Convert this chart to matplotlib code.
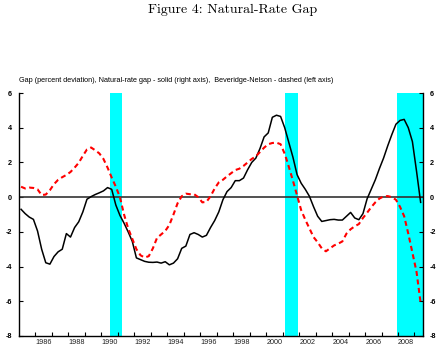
import numpy as np
import matplotlib
matplotlib.use('Agg')
from matplotlib import pyplot as plt

# quarterly data, 1985Q1 .. 2009Q2 (plotted at mid-quarter)
start_year = 1985
n_q = 98
natural_gap = [-0.7, -0.95, -1.15, -1.28, -1.95, -3.0, -3.78, -3.86, -3.42, -3.15,
               -3.0, -2.1, -2.3, -1.75, -1.42, -0.85, -0.12, 0.03, 0.15, 0.25,
               0.36, 0.55, 0.45, -0.45, -1.05, -1.5, -2.0, -2.55, -3.5, -3.6,
               -3.7, -3.75, -3.76, -3.74, -3.8, -3.72, -3.9, -3.8, -3.55, -2.95,
               -2.82, -2.15, -2.05, -2.15, -2.3, -2.2, -1.75, -1.35, -0.85, -0.15,
               0.32, 0.55, 0.95, 0.95, 1.1, 1.58, 2.0, 2.25, 2.8, 3.47,
               3.7, 4.6, 4.72, 4.65, 4.0, 3.15, 2.3, 1.3, 0.8, 0.45,
               0.05, -0.55, -1.1, -1.4, -1.35, -1.3, -1.28, -1.32, -1.32, -1.1,
               -0.88, -1.2, -1.3, -0.95, -0.1, 0.45, 1.0, 1.65, 2.25, 2.95,
               3.6, 4.2, 4.42, 4.48, 4.0, 3.2, 1.5, -0.3]
bn_gap = [0.6, 0.5, 0.55, 0.53, 0.45, 0.12, 0.15, 0.4, 0.75, 1.0,
          1.15, 1.28, 1.45, 1.7, 1.98, 2.38, 2.75, 2.86, 2.7, 2.52,
          2.2, 1.7, 1.13, 0.6, 0.0, -1.0, -1.8, -2.4, -3.0, -3.35,
          -3.48, -3.4, -2.95, -2.35, -2.15, -1.95, -1.6, -1.0, -0.35, 0.05,
          0.2, 0.17, 0.17, 0.0, -0.3, -0.27, 0.05, 0.5, 0.85, 1.0,
          1.2, 1.38, 1.56, 1.64, 1.8, 2.0, 2.2, 2.35, 2.6, 2.85,
          3.05, 3.12, 3.14, 3.05, 2.5, 1.75, 0.95, 0.1, -0.75, -1.3,
          -1.8, -2.3, -2.6, -2.95, -3.12, -2.95, -2.78, -2.68, -2.55, -2.1,
          -1.85, -1.68, -1.55, -1.2, -0.9, -0.58, -0.3, -0.08, 0.04, 0.06,
          0.0, -0.15, -0.56, -1.1, -2.1, -3.2, -4.3, -6.1]
recessions = [(1990.5, 1991.25), (2001.125, 2001.95), (2007.92, 2009.5)]
year_labels = list(range(1986, 2009, 2))

t = start_year + 0.125 + 0.25 * np.arange(n_q)

fig = plt.figure(figsize=(4.47, 3.51), dpi=100)
ax = fig.add_axes([19/447, 15/351, (422.7-19)/447, (336-93)/351])

for a, b in recessions:
    ax.axvspan(a, b, color='#00ffff', lw=0, zorder=1)
ax.axhline(0, color='#333333', lw=1.2, zorder=2)
ax.plot(t, natural_gap, color='black', lw=1.1, zorder=3)
ax.plot(t, bn_gap, color='red', lw=1.5, ls=(0, (2.4, 1.7)), zorder=4)

ax.set_xlim(1985, 2009.5)
ax.set_ylim(-8, 6)
ax.spines['top'].set_visible(False)
for s in ['left', 'right', 'bottom']:
    ax.spines[s].set_linewidth(1.0)

ax.set_yticks(np.arange(-8, 7, 2))
ax.set_yticklabels([str(v) for v in range(-8, 7, 2)])
ax.tick_params(axis='y', direction='in', length=3, width=0.8, left=True, right=True,
               labelleft=True, labelright=True, labelsize=5.2, pad=5)
for lab in ax.get_yticklabels():
    lab.set_fontfamily('Liberation Sans')
    lab.set_fontweight('bold')

ax.set_xticks(np.arange(1986, 2010, 1))
ax.set_xticklabels([])
ax.set_xticks([y + 0.5 for y in year_labels], minor=True)
ax.set_xticklabels([str(y) for y in year_labels], minor=True)
ax.tick_params(axis='x', which='major', direction='in', length=3, width=0.8)
ax.tick_params(axis='x', which='minor', length=0, labelsize=5.2, pad=2, labelcolor='#222222')
for lab in ax.get_xticklabels(minor=True):
    lab.set_fontfamily('Liberation Sans')

fig.text(0.521, 0.972, 'Figure 4: Natural-Rate Gap', ha='center', va='center',
         family='cmr10', fontsize=10)
fig.text(19/447, 1 - 81/351,
         'Gap (percent deviation), Natural-rate gap - solid (right axis),  Beveridge-Nelson - dashed (left axis)',
         ha='left', va='center', family='Liberation Sans', fontsize=5.25)

fig.savefig('out.png', dpi=100)
